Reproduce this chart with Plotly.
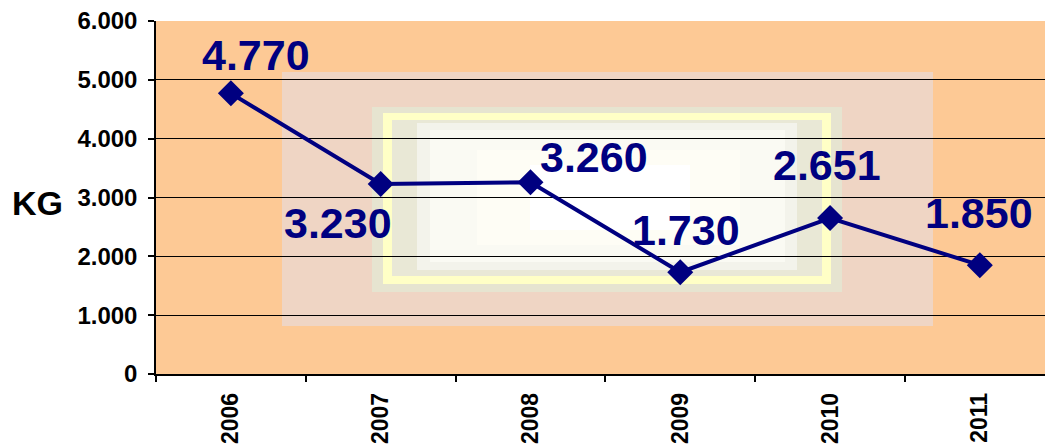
import plotly.graph_objects as go

# Yearly weight totals (kg)
years = ["2006", "2007", "2008", "2009", "2010", "2011"]
kg = [4770, 3230, 3260, 1730, 2651, 1850]

# Value label offsets in pixels (x, y) relative to each point
label_dx = [25, -43, 64, 6, -3, -1]
label_dy = [38, -39, 25, 42, 53, 52]

y_ticks = [0, 1000, 2000, 3000, 4000, 5000, 6000]

W, H = 1045, 448
ML, MR, MT, MB = 156, 0, 21, 74
PW, PH = W - ML - MR, H - MT - MB

NAVY = "#000080"
FONT = "Liberation Sans, Arial, sans-serif"


def fmt(v):
    return f"{v:,}".replace(",", ".")


def box(x0, x1, ytop, ybot):
    """Pixel box -> fractions of the plotting area."""
    return dict(x0=(x0 - ML) / PW, x1=(x1 - ML) / PW,
                y0=(MT + PH - ybot) / PH, y1=(MT + PH - ytop) / PH)


# Soft rectangular glow in the middle of the plotting area
glow = [
    ((282, 933, 72, 326), "#EFD5C4"),
    ((372, 842, 107, 292), "#E6E4D0"),
    ((383, 831, 113, 284), "#FFFFC6"),
    ((392, 822, 120, 276), "#E9E8D6"),
    ((417, 797, 123, 270), "#F3F3EB"),
    ((430, 785, 130, 262), "#FAFAF3"),
    ((477, 740, 150, 245), "#FEFDF5"),
    ((530, 690, 165, 230), "#FFFFFF"),
]

shapes = []
for (x0, x1, yt, yb), col in glow:
    s = dict(type="rect", xref="x domain", yref="y domain", layer="below",
             line=dict(width=0), fillcolor=col)
    s.update(box(x0, x1, yt, yb))
    shapes.append(s)

fig = go.Figure()
fig.add_trace(go.Scatter(
    x=years, y=kg, mode="lines+markers",
    line=dict(color=NAVY, width=4),
    marker=dict(symbol="diamond", size=20, color=NAVY),
    hoverinfo="skip", showlegend=False,
))

annotations = []
for i, (v, dx, dy) in enumerate(zip(kg, label_dx, label_dy)):
    # category axis: position annotations by category index
    annotations.append(dict(
        x=i, y=v, text=fmt(v), showarrow=False,
        xshift=dx, yshift=dy, xanchor="center", yanchor="middle",
        font=dict(family=FONT, size=43, color=NAVY, weight="bold"),
    ))

annotations.append(dict(
    xref="paper", yref="y", x=(65 - ML) / PW, y=2900,
    xanchor="right", yanchor="middle", text="KG", showarrow=False,
    font=dict(family=FONT, size=34, color="black", weight="bold"),
))

fig.update_layout(
    width=W, height=H,
    margin=dict(l=ML, r=MR, t=MT, b=MB, pad=0),
    paper_bgcolor="white",
    plot_bgcolor="#FDC995",
    separators=",.",
    shapes=shapes,
    annotations=annotations,
    xaxis=dict(
        type="category", range=[-0.5, 5.435],
        tickson="boundaries", ticks="outside", ticklen=6, tickwidth=2,
        tickcolor="black", tickangle=-90,
        showline=True, linecolor="black", linewidth=1.5,
        showgrid=False, zeroline=False, automargin=False,
        ticklabelstandoff=8,
        tickfont=dict(family=FONT, size=23, color="black", weight="bold"),
    ),
    yaxis=dict(
        range=[0, 6000], tickvals=y_ticks, tickformat=",d",
        ticks="outside", ticklen=6, tickwidth=2, tickcolor="black",
        showline=True, linecolor="black", linewidth=1.5,
        showgrid=True, gridcolor="black", gridwidth=1.2,
        zeroline=False, automargin=False, ticklabelstandoff=6,
        tickfont=dict(family=FONT, size=24, color="black", weight="bold"),
    ),
)

fig.write_html("out.html")
